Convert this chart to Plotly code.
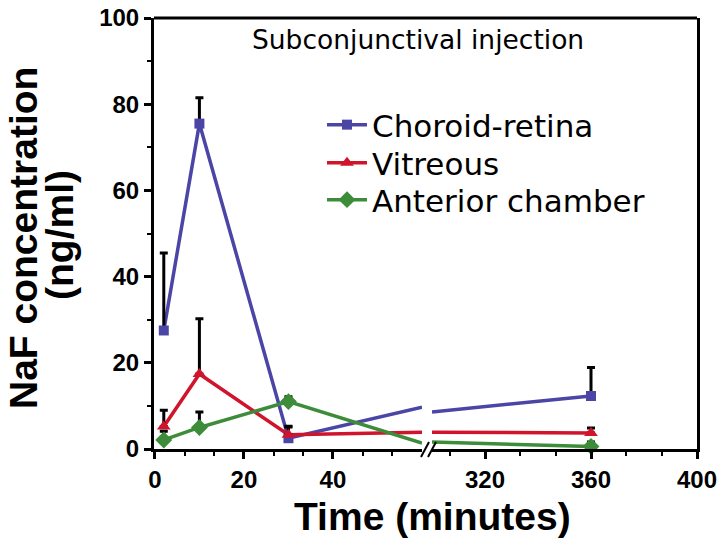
import plotly.graph_objects as go

# ---------------- data ----------------
time_min = [2, 10, 30, 360]
series_names = ["Choroid-retina", "Vitreous", "Anterior chamber"]
choroid = [27.5, 75.5, 2.5, 12.3]
choroid_err = [18.0, 6.0, 2.8, 6.6]
vitreous = [5.2, 17.4, 3.3, 3.7]
vitreous_err = [3.8, 12.8, 1.8, 1.2]
anterior = [2.1, 5.0, 11.0, 0.6]
anterior_err = [2.0, 3.6, 1.1, 1.0]
# line values where each series meets the axis break (left panel end, right panel start)
break_times = [60, 300]
choroid_break = [9.7, 8.6]
vitreous_break = [3.9, 3.9]
anterior_break = [1.4, 1.6]

x_left_ticks = [0, 20, 40]
x_right_ticks = [320, 360, 400]
y_ticks = [0, 20, 40, 60, 80, 100]

# ---------------- styling ----------------
colors = ["#4B45A6", "#D0142C", "#3C8C3A"]
symbols = ["square", "triangle-up", "diamond"]
msizes = [10, 12, 13]
values = [choroid, vitreous, anterior]
errors = [choroid_err, vitreous_err, anterior_err]
breaks = [choroid_break, vitreous_break, anterior_break]
legend_ids = ["legend", "legend2", "legend3"]
legend_rows_px = [125, 163, 200]

W, H = 728, 551
L, R, T, B = 154, 31, 18, 102
pw = W - L - R
ph = H - T - B
split_l = (422 - L) / pw
split_r = (432 - L) / pw

def px(x):
    return (x - L) / pw

def py(y):
    return 1 - (y - T) / ph

fig = go.Figure()

n_left = sum(1 for t in time_min if t <= break_times[0])

# lines
for name, c, v, b in zip(series_names, colors, values, breaks):
    fig.add_trace(go.Scatter(
        x=time_min[:n_left] + [break_times[0]], y=v[:n_left] + [b[0]],
        mode="lines", line=dict(color=c, width=3.5), xaxis="x", yaxis="y",
        showlegend=False, hoverinfo="skip"))
    fig.add_trace(go.Scatter(
        x=[break_times[1]] + time_min[n_left:], y=[b[1]] + v[n_left:],
        mode="lines", line=dict(color=c, width=3.5), xaxis="x2", yaxis="y2",
        showlegend=False, hoverinfo="skip"))

# markers + one-sided error bars
for name, c, s, ms, v, e in zip(series_names, colors, symbols, msizes, values, errors):
    for sl, xa, ya in [(slice(0, n_left), "x", "y"), (slice(n_left, None), "x2", "y2")]:
        fig.add_trace(go.Scatter(
            x=time_min[sl], y=v[sl], mode="markers",
            marker=dict(color=c, symbol=s, size=ms, line=dict(width=0)),
            error_y=dict(type="data", symmetric=False, array=e[sl],
                         arrayminus=[0] * len(e[sl]), color="black",
                         thickness=3, width=4),
            xaxis=xa, yaxis=ya, showlegend=False, cliponaxis=False))

# legend entries (one legend per row so the row spacing can follow the reference)
for name, c, s, ms, lg in zip(series_names, colors, symbols, msizes, legend_ids):
    fig.add_trace(go.Scatter(
        x=[None], y=[None], mode="lines+markers", name=name, legend=lg,
        line=dict(color=c, width=3.5),
        marker=dict(color=c, symbol=s, size=ms, line=dict(width=0)),
        xaxis="x", yaxis="y"))

tickfont = dict(family="Liberation Sans, Arial, sans-serif", size=24, color="black",
                weight="bold")
axis_common = dict(showline=True, linecolor="black", linewidth=3, ticks="outside",
                   ticklen=7, tickwidth=2.5, tickcolor="black", showgrid=False,
                   zeroline=False, tickfont=tickfont, automargin=False)

legend_style = dict(xanchor="left", yanchor="middle",
                    font=dict(family="DejaVu Sans, sans-serif", size=31, color="black"),
                    bgcolor="rgba(0,0,0,0)", itemwidth=40)

fig.update_layout(
    width=W, height=H,
    margin=dict(l=L, r=R, t=T, b=B, autoexpand=False),
    paper_bgcolor="white", plot_bgcolor="white",
    font=dict(family="Liberation Sans, Arial, sans-serif", color="black"),
    xaxis=dict(domain=[0, split_l], range=[-0.2, 60], tickvals=x_left_ticks,
               minor=dict(tickvals=[20 * k / 3 for k in range(1, 9) if k % 3],
                          ticks="outside", ticklen=4, tickwidth=2, tickcolor="black"),
               anchor="y", **axis_common),
    xaxis2=dict(domain=[split_r, 1], range=[300, 400], tickvals=x_right_ticks,
                minor=dict(tickvals=[320 + 40 * k / 3 for k in range(-1, 6) if k % 3],
                           ticks="outside", ticklen=4, tickwidth=2, tickcolor="black"),
                anchor="y2", **axis_common),
    yaxis=dict(domain=[0, 1], range=[0, 100], tickvals=y_ticks, anchor="x",
               minor=dict(dtick=10, ticks="outside", ticklen=4, tickwidth=2, tickcolor="black"),
               **axis_common),
    yaxis2=dict(domain=[0, 1], range=[0, 100], matches="y", anchor="x2", side="right",
                showline=True, linecolor="black", linewidth=3, ticks="",
                showticklabels=False, showgrid=False, zeroline=False, automargin=False),
    showlegend=True,
)
for lg, row in zip(legend_ids, legend_rows_px):
    fig.update_layout({lg: dict(x=px(322), y=py(row), **legend_style)})

title_font = dict(family="Liberation Sans, Arial, sans-serif", color="black", weight="bold")
# y-axis title (two lines), x-axis title spanning both panels, caption
fig.add_annotation(text="NaF concentration", xref="paper", yref="paper",
                   x=px(23), y=py(238), showarrow=False, textangle=-90,
                   xanchor="center", yanchor="middle", font=dict(size=39, **title_font))
fig.add_annotation(text="(ng/ml)", xref="paper", yref="paper",
                   x=px(59), y=py(235), showarrow=False, textangle=-90,
                   xanchor="center", yanchor="middle", font=dict(size=39, **title_font))
fig.add_annotation(text="Time (minutes)", xref="paper", yref="paper",
                   x=px(432), y=py(516), showarrow=False, xanchor="center", yanchor="middle",
                   font=dict(size=39, **title_font))
fig.add_annotation(text="Subconjunctival injection", xref="paper", yref="paper",
                   x=px(418), y=py(40), showarrow=False, xanchor="center", yanchor="middle",
                   font=dict(family="DejaVu Sans, sans-serif", size=26.5, color="black"))

# frame top line and axis-break marks
fig.add_shape(type="line", xref="paper", yref="paper", x0=0, x1=1, y0=1, y1=1,
              line=dict(color="black", width=3))
for dx in (0, 7):
    fig.add_shape(type="line", xref="paper", yref="paper",
                  x0=px(421 + dx), x1=px(429 + dx), y0=py(457), y1=py(442),
                  line=dict(color="black", width=2))

fig.write_html("out.html", config={"displayModeBar": False},
               post_script="document.body.style.margin='0';")
